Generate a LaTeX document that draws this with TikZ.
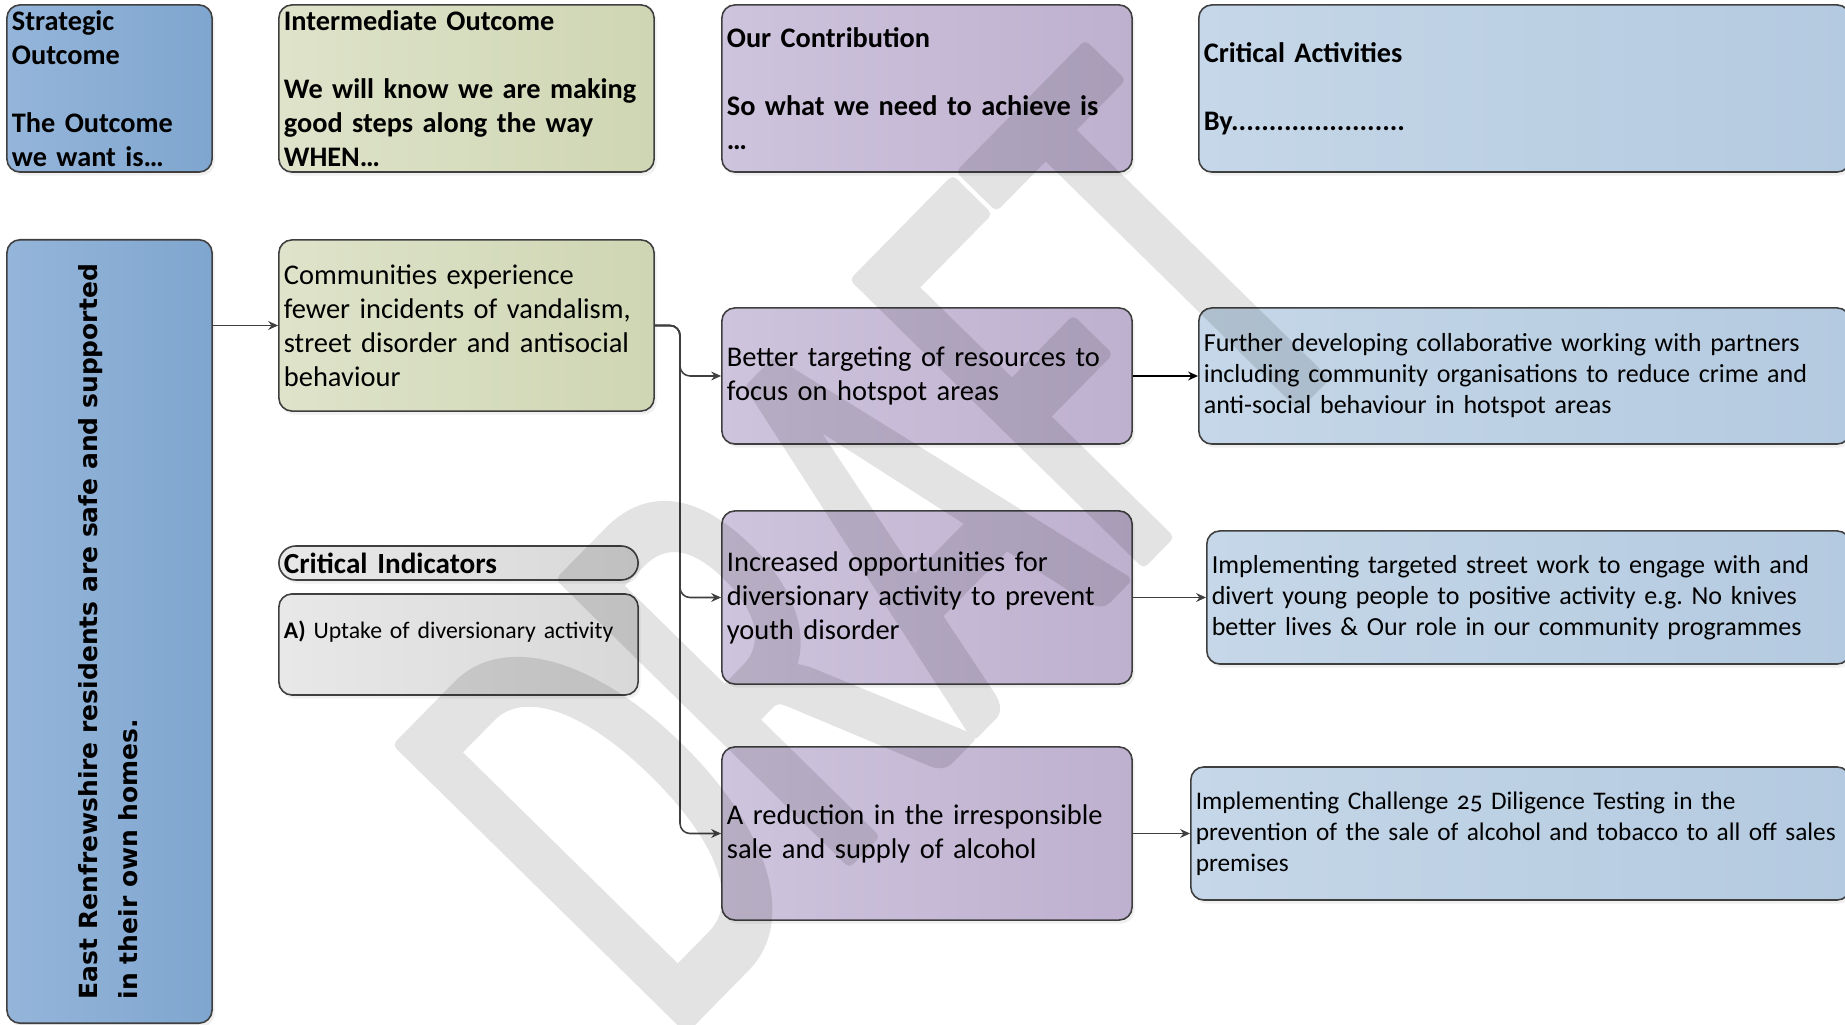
\documentclass[tikz,border=0pt]{standalone}
\usepackage{fontspec}
\setmainfont{Carlito}[Numbers=OldStyle]
\newfontfamily\vertfont{DejaVu Sans}
\newfontfamily\draftfont{Carlito}[FakeStretch=0.6]
\usepackage{graphicx}
\usetikzlibrary{arrows.meta,shadows}
\frenchspacing

\definecolor{edgegrey}{HTML}{3F3F3F}
\definecolor{stratlight}{HTML}{95B5DA}
\definecolor{stratdark}{HTML}{7FA6CF}
\definecolor{interlight}{HTML}{DEE3CA}
\definecolor{interdark}{HTML}{CFD6B3}
\definecolor{contriblight}{HTML}{CEC4DD}
\definecolor{contribdark}{HTML}{BEB0CF}
\definecolor{actlight}{HTML}{C5D7E8}
\definecolor{actdark}{HTML}{B4CAE0}
\definecolor{indlight}{HTML}{E8E8E8}
\definecolor{inddark}{HTML}{D8D8D8}

\newcommand\bodysize{\fontsize{8.1}{9.67}\selectfont}
\newcommand\headsize{\fontsize{8.05}{9.67}\selectfont}
\newcommand\actsize{\fontsize{7.4}{8.8}\selectfont}
\newcommand\indsize{\fontsize{6.75}{8.4}\selectfont}
\newcommand\vertsize{\fontsize{7.1}{11.4}\selectfont}
% filled and stroked letters for the watermark (round corners)
\newcommand\softletters[1]{\special{pdf:literal direct 2 Tr 1 j 3 w}#1\special{pdf:literal direct 0 Tr}}

\tikzset{
	box/.style={draw=edgegrey,line width=0.45pt,rounded corners=0.13cm,inner xsep=0.05cm,inner ysep=0pt,align=left,font=\bodysize,
		drop shadow={shadow xshift=0.025cm,shadow yshift=-0.035cm,opacity=0.12}},
	heading/.style={box,font=\headsize\bfseries},
	stratbox/.style={left color=stratlight,right color=stratdark},
	interbox/.style={left color=interlight,right color=interdark},
	contribbox/.style={left color=contriblight,right color=contribdark},
	actbox/.style={left color=actlight,right color=actdark},
	indbox/.style={left color=indlight,right color=inddark},
	link/.style={draw=edgegrey,line width=0.45pt,rounded corners=0.1cm,-{Stealth[length=2.8pt,width=2.5pt]}},
	draftmark/.style={text=black,inner sep=0pt,font=\draftfont\fontsize{178}{178}\selectfont}
}

\begin{document}
\begin{tikzpicture}[x=0.01cm,y=-0.01cm]
	\useasboundingbox (0,0) rectangle (1845,1025);
	\clip (0,0) rectangle (1845,1025);
	% column headings
	\node[heading,stratbox,text width=1.95cm,minimum height=1.67cm](stratHead) at (109.5,88.5){Strategic\\Outcome\\[9.67pt]The Outcome\\we want is…};
	\node[heading,interbox,text width=3.65cm,minimum height=1.67cm](interHead) at (466.5,88.5){Intermediate Outcome\\[9.67pt]We will know we are making\\good steps along the way\\WHEN…};
	\node[heading,contribbox,text width=4cm,minimum height=1.67cm](contribHead) at (927,88.5){Our Contribution\\[9.67pt]So what we need to achieve is\\…};
	\node[heading,actbox,text width=6.41cm,minimum height=1.67cm](actHead) at (1524.5,88.5){Critical Activities\\[9.67pt]By.......................};
	% outcome and indicators
	\node[box,stratbox,inner xsep=0pt,minimum width=2.05cm,minimum height=7.83cm](strat) at (109.5,631.5){\rotatebox{90}{\vertfont\bfseries\vertsize\begin{tabular}{@{}l@{}}East Renfrewshire residents are safe and supported\\in their own homes.\end{tabular}}};
	\node[box,interbox,text width=3.65cm,minimum height=1.71cm](comm) at (466.5,325.5){Communities experience\\fewer incidents of vandalism,\\street disorder and antisocial\\behaviour};
	\node[box,indbox,font=\fontsize{8.3}{9.67}\selectfont\bfseries,rounded corners=0.17cm,text width=3.49cm,minimum height=0.34cm](indTitle) at (458.5,563){Critical Indicators};
	\node[box,indbox,font=\indsize,text width=3.49cm,minimum height=1.01cm](indList) at (458.5,644.5){\textbf{A)} Uptake of diversionary activity\\\mbox{}};
	% contributions
	\node[box,contribbox,text width=4cm,minimum height=1.36cm](better) at (927,376){Better targeting of resources to\\focus on hotspot areas};
	\node[box,contribbox,text width=4cm,minimum height=1.73cm](incr) at (927,597.5){Increased opportunities for\\diversionary activity to prevent\\youth disorder};
	\node[box,contribbox,text width=4cm,minimum height=1.73cm](reduc) at (927,833.5){A reduction in the irresponsible\\sale and supply of alcohol};
	% activities
	\node[box,actbox,font=\actsize,text width=6.41cm,minimum height=1.36cm](furth) at (1524.5,376){Further developing collaborative working with partners\\including community organisations to reduce crime and\\anti-social behaviour in hotspot areas};
	\node[box,actbox,font=\actsize,text width=6.33cm,minimum height=1.33cm](implA) at (1528.5,597.5){Implementing targeted street work to engage with and\\divert young people to positive activity e.g. No knives\\better lives \& Our role in our community programmes};
	\node[box,actbox,font=\fontsize{7.2}{8.8}\selectfont,text width=6.49cm,minimum height=1.33cm](implB) at (1520.5,833.5){Implementing Challenge 25 Diligence Testing in the\\\mbox{prevention of the sale of alcohol and tobacco to all off sales}\\premises};
	% connectors
	\coordinate (split) at (680,325.5);
	\draw[link](strat.east |- comm.west)--(comm.west);
	\draw[link](comm.east)--(split)|-(better.west);
	\draw[link](comm.east)--(split)|-(incr.west);
	\draw[link](comm.east)--(split)|-(reduc.west);
	\draw[link,draw=black,line width=0.6pt](better.east)--(furth.west);
	\draw[link](incr.east)--(implA.west);
	\draw[link](reduc.east)--(implB.west);
	% watermark
	\begin{scope}[transparency group,opacity=0.11]
		\node[draftmark,rotate=45.5,anchor=base west](draft) at (668,1045){\softletters{DRAFT}};
	\end{scope}
\end{tikzpicture}
\end{document}
